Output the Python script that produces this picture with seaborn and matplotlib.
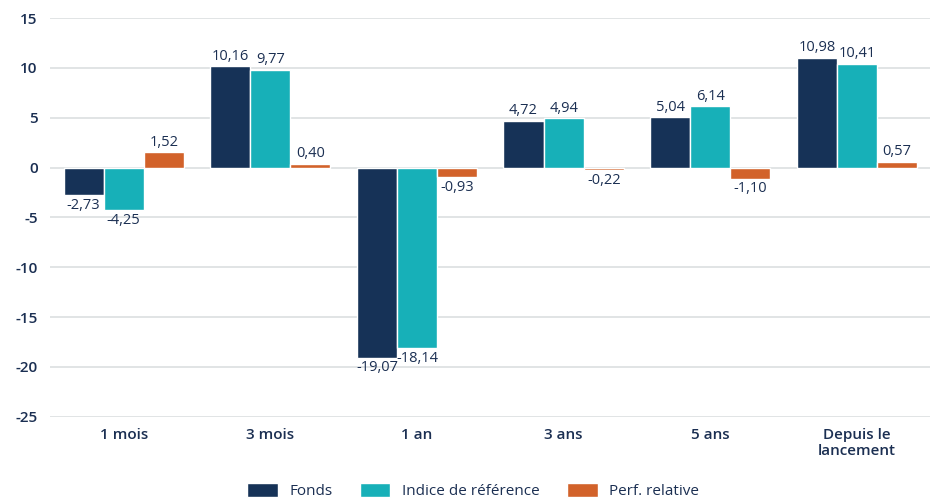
import numpy as np
import pandas as pd
import matplotlib
matplotlib.use("Agg")
import matplotlib.pyplot as plt
import seaborn as sns

# ── Data ──────────────────────────────────────────────────────────────────────
PERIODS = ["1 mois", "3 mois", "1 an", "3 ans", "5 ans", "Depuis le\nlancement"]
SERIES = ["Fonds", "Indice de référence", "Perf. relative"]
FONDS = [-2.73, 10.16, -19.07, 4.72, 5.04, 10.98]
INDICE = [-4.25, 9.77, -18.14, 4.94, 6.14, 10.41]
RELATIVE = [1.52, 0.40, -0.93, -0.22, -1.10, 0.57]
Y_TICKS = [15, 10, 5, 0, -5, -10, -15, -20, -25]

# ── Style ─────────────────────────────────────────────────────────────────────
COLORS = ["#163257", "#17B0B8", "#D2622A"]
TEXT = "#1B2F52"
GRID = "#DCDFE0"

sns.set_theme(style="white")
plt.rcParams["font.family"] = ["Open Sans", "DejaVu Sans"]
plt.rcParams["axes.unicode_minus"] = False

df = pd.DataFrame({
    "period": PERIODS * 3,
    "series": np.repeat(SERIES, len(PERIODS)),
    "value": FONDS + INDICE + RELATIVE,
})

fig = plt.figure(figsize=(9.33, 5.01), dpi=100)
ax = fig.add_axes([0.054, 0.168, 0.943, 0.796])

sns.barplot(data=df, x="period", y="value", hue="series", order=PERIODS,
            hue_order=SERIES, palette=COLORS, width=0.82, ax=ax,
            edgecolor="white", linewidth=1, saturation=1, errorbar=None)

ax.set_ylim(-25, 15)
ax.set_yticks(Y_TICKS)
ax.yaxis.grid(True, color=GRID, linewidth=1.2)
ax.set_axisbelow(True)
for s in ax.spines.values():
    s.set_visible(False)
ax.set_xlabel("")
ax.set_ylabel("")
ax.tick_params(axis="both", length=0, colors=TEXT, labelsize=11)
ax.tick_params(axis="x", pad=8)
ax.tick_params(axis="y", pad=9)
for lab in ax.get_xticklabels() + ax.get_yticklabels():
    lab.set_fontweight("semibold")
    lab.set_color(TEXT)

# value labels
for cont in ax.containers:
    labels = [f"{b.get_height():.2f}".replace(".", ",") for b in cont]
    ax.bar_label(cont, labels=labels, padding=2, fontsize=10.5, color=TEXT,
                 fontweight="medium")

handles, lbls = ax.get_legend_handles_labels()
ax.get_legend().remove()
fig.legend(handles, lbls, loc="center", bbox_to_anchor=(0.507, 0.02),
           ncol=3, frameon=False, fontsize=11, handlelength=2.0,
           handleheight=1.1, columnspacing=1.8, handletextpad=0.75,
           labelcolor=TEXT, borderaxespad=0, borderpad=0)

fig.savefig("out.png", dpi=100)
